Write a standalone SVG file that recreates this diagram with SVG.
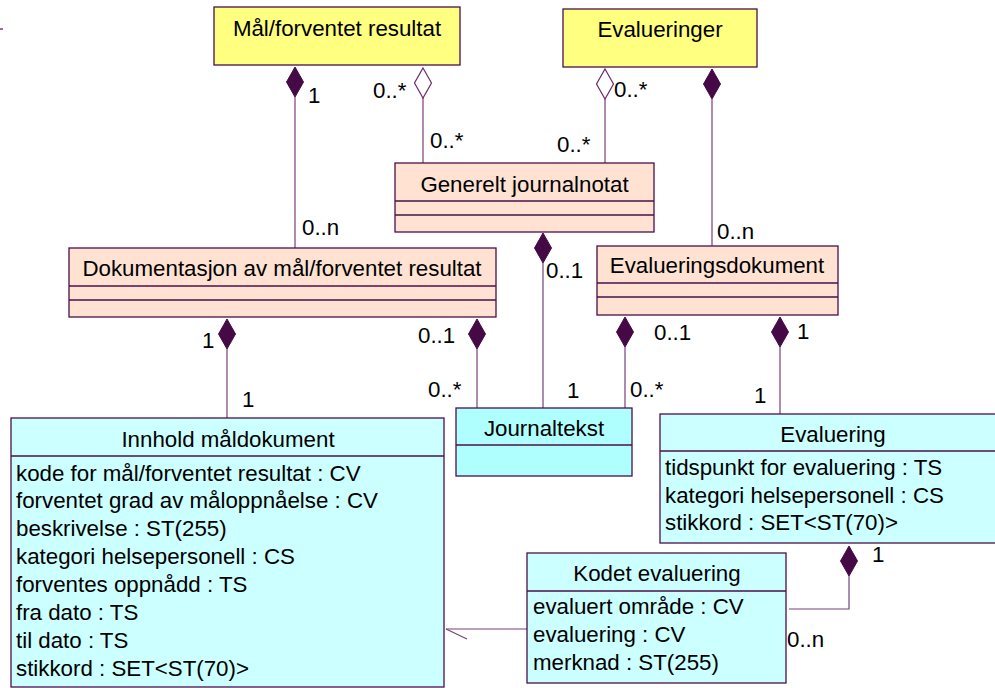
<svg xmlns="http://www.w3.org/2000/svg" width="995" height="688" viewBox="0 0 995 688">
<style>
text{font-family:"Liberation Sans",Arial,sans-serif;font-size:22.3px;fill:#000}
.t{text-anchor:middle}
.box{stroke:#4b0f4b;stroke-width:1.3}
.y{fill:#ffff80}
.p{fill:#ffe2d2}
.c{fill:#ccffff}
.j{fill:#b0ffff}
.ln{stroke:#4b0f4b;stroke-width:1.3;fill:none}
.cn{stroke:#7a3f7a;stroke-width:1.2;fill:none}
.fd{fill:#450a45;stroke:#450a45;stroke-width:1}
.hd{fill:#fff;stroke:#6a2a6a;stroke-width:1.2}
</style>
<defs>
<path id="dia" d="M0,0 L8.5,15 L0,30 L-8.5,15 Z"/>
</defs>
<line x1="0" y1="29" x2="3" y2="29" stroke="#7a3f7a" stroke-width="1.5"/>
<g id="connectors">
<line class="cn" x1="295" y1="97" x2="295" y2="248"/>
<use href="#dia" class="fd" x="295" y="67"/>
<line class="cn" x1="423" y1="97" x2="423" y2="163"/>
<use href="#dia" class="hd" x="423" y="68"/>
<line class="cn" x1="605" y1="99" x2="605" y2="163"/>
<use href="#dia" class="hd" x="605" y="69"/>
<line class="cn" x1="712" y1="99" x2="712" y2="246"/>
<use href="#dia" class="fd" x="712" y="69"/>
<line class="cn" x1="543" y1="263" x2="543" y2="408"/>
<use href="#dia" class="fd" x="543" y="233"/>
<line class="cn" x1="227" y1="349" x2="227" y2="418"/>
<use href="#dia" class="fd" x="227" y="319"/>
<line class="cn" x1="477" y1="349" x2="477" y2="408"/>
<use href="#dia" class="fd" x="477" y="319"/>
<line class="cn" x1="625" y1="347" x2="625" y2="408"/>
<use href="#dia" class="fd" x="625" y="317"/>
<line class="cn" x1="780" y1="347" x2="780" y2="414"/>
<use href="#dia" class="fd" x="780" y="317"/>
<polyline class="cn" points="849,576 849,609 789,609"/>
<use href="#dia" class="fd" x="849" y="546"/>
<line class="cn" x1="527" y1="629" x2="446" y2="629"/>
<line class="cn" x1="446" y1="629" x2="467" y2="639"/>
<text x="308" y="103">1</text>
<text x="302" y="235">0..n</text>
<text x="373" y="98">0..*</text>
<text x="430" y="148">0..*</text>
<text x="614" y="97">0..*</text>
<text x="557" y="152">0..*</text>
<text x="717" y="239">0..n</text>
<text x="546" y="278">0..1</text>
<text x="202" y="348">1</text>
<text x="242" y="407">1</text>
<text x="418" y="343">0..1</text>
<text x="428" y="397">0..*</text>
<text x="567" y="398">1</text>
<text x="654" y="340">0..1</text>
<text x="630" y="397">0..*</text>
<text x="797" y="339">1</text>
<text x="754" y="403">1</text>
<text x="872" y="562">1</text>
<text x="787" y="647">0..n</text>
</g>
<g id="maal">
<rect class="box y" x="214" y="7" width="246" height="58"/>
<text class="t" x="337" y="36">Mål/forventet resultat</text>
</g>
<g id="evalueringer">
<rect class="box y" x="563" y="9" width="194" height="58"/>
<text class="t" x="660" y="37">Evalueringer</text>
</g>
<g id="generelt">
<rect class="box p" x="395" y="163" width="259" height="69"/>
<line class="ln" x1="395" y1="201" x2="654" y2="201"/>
<line class="ln" x1="395" y1="215" x2="654" y2="215"/>
<text class="t" x="524.5" y="192">Generelt journalnotat</text>
</g>
<g id="dokumentasjon">
<rect class="box p" x="69" y="248" width="427" height="69"/>
<line class="ln" x1="69" y1="286" x2="496" y2="286"/>
<line class="ln" x1="69" y1="300" x2="496" y2="300"/>
<text class="t" x="282" y="276">Dokumentasjon av mål/forventet resultat</text>
</g>
<g id="evalueringsdokument">
<rect class="box p" x="597" y="246" width="241" height="69"/>
<line class="ln" x1="597" y1="283" x2="838" y2="283"/>
<line class="ln" x1="597" y1="297" x2="838" y2="297"/>
<text class="t" x="717" y="273">Evalueringsdokument</text>
</g>
<g id="journaltekst">
<rect class="box j" x="456" y="408" width="176" height="68"/>
<line class="ln" x1="456" y1="445" x2="632" y2="445"/>
<text class="t" x="544" y="436">Journaltekst</text>
</g>
<g id="innhold">
<rect class="box c" x="11" y="418" width="433" height="269"/>
<line class="ln" x1="11" y1="456" x2="444" y2="456"/>
<text class="t" x="228" y="447">Innhold måldokument</text>
<text x="16" y="481">kode for mål/forventet resultat : CV</text>
<text x="16" y="508">forventet grad av måloppnåelse : CV</text>
<text x="16" y="536">beskrivelse : ST(255)</text>
<text x="16" y="564">kategori helsepersonell : CS</text>
<text x="16" y="592">forventes oppnådd : TS</text>
<text x="16" y="620">fra dato : TS</text>
<text x="16" y="648">til dato : TS</text>
<text x="16" y="676">stikkord : SET&lt;ST(70)&gt;</text>
</g>
<g id="evaluering">
<rect class="box c" x="660" y="414" width="345" height="129"/>
<line class="ln" x1="660" y1="451" x2="1005" y2="451"/>
<text class="t" x="833" y="442">Evaluering</text>
<text x="665" y="475">tidspunkt for evaluering : TS</text>
<text x="665" y="503">kategori helsepersonell : CS</text>
<text x="665" y="530">stikkord : SET&lt;ST(70)&gt;</text>
</g>
<g id="kodet">
<rect class="box c" x="527" y="553" width="259" height="130"/>
<line class="ln" x1="527" y1="591" x2="786" y2="591"/>
<text class="t" x="657" y="581">Kodet evaluering</text>
<text x="533" y="614">evaluert område : CV</text>
<text x="533" y="642">evaluering : CV</text>
<text x="533" y="670">merknad : ST(255)</text>
</g>
</svg>
